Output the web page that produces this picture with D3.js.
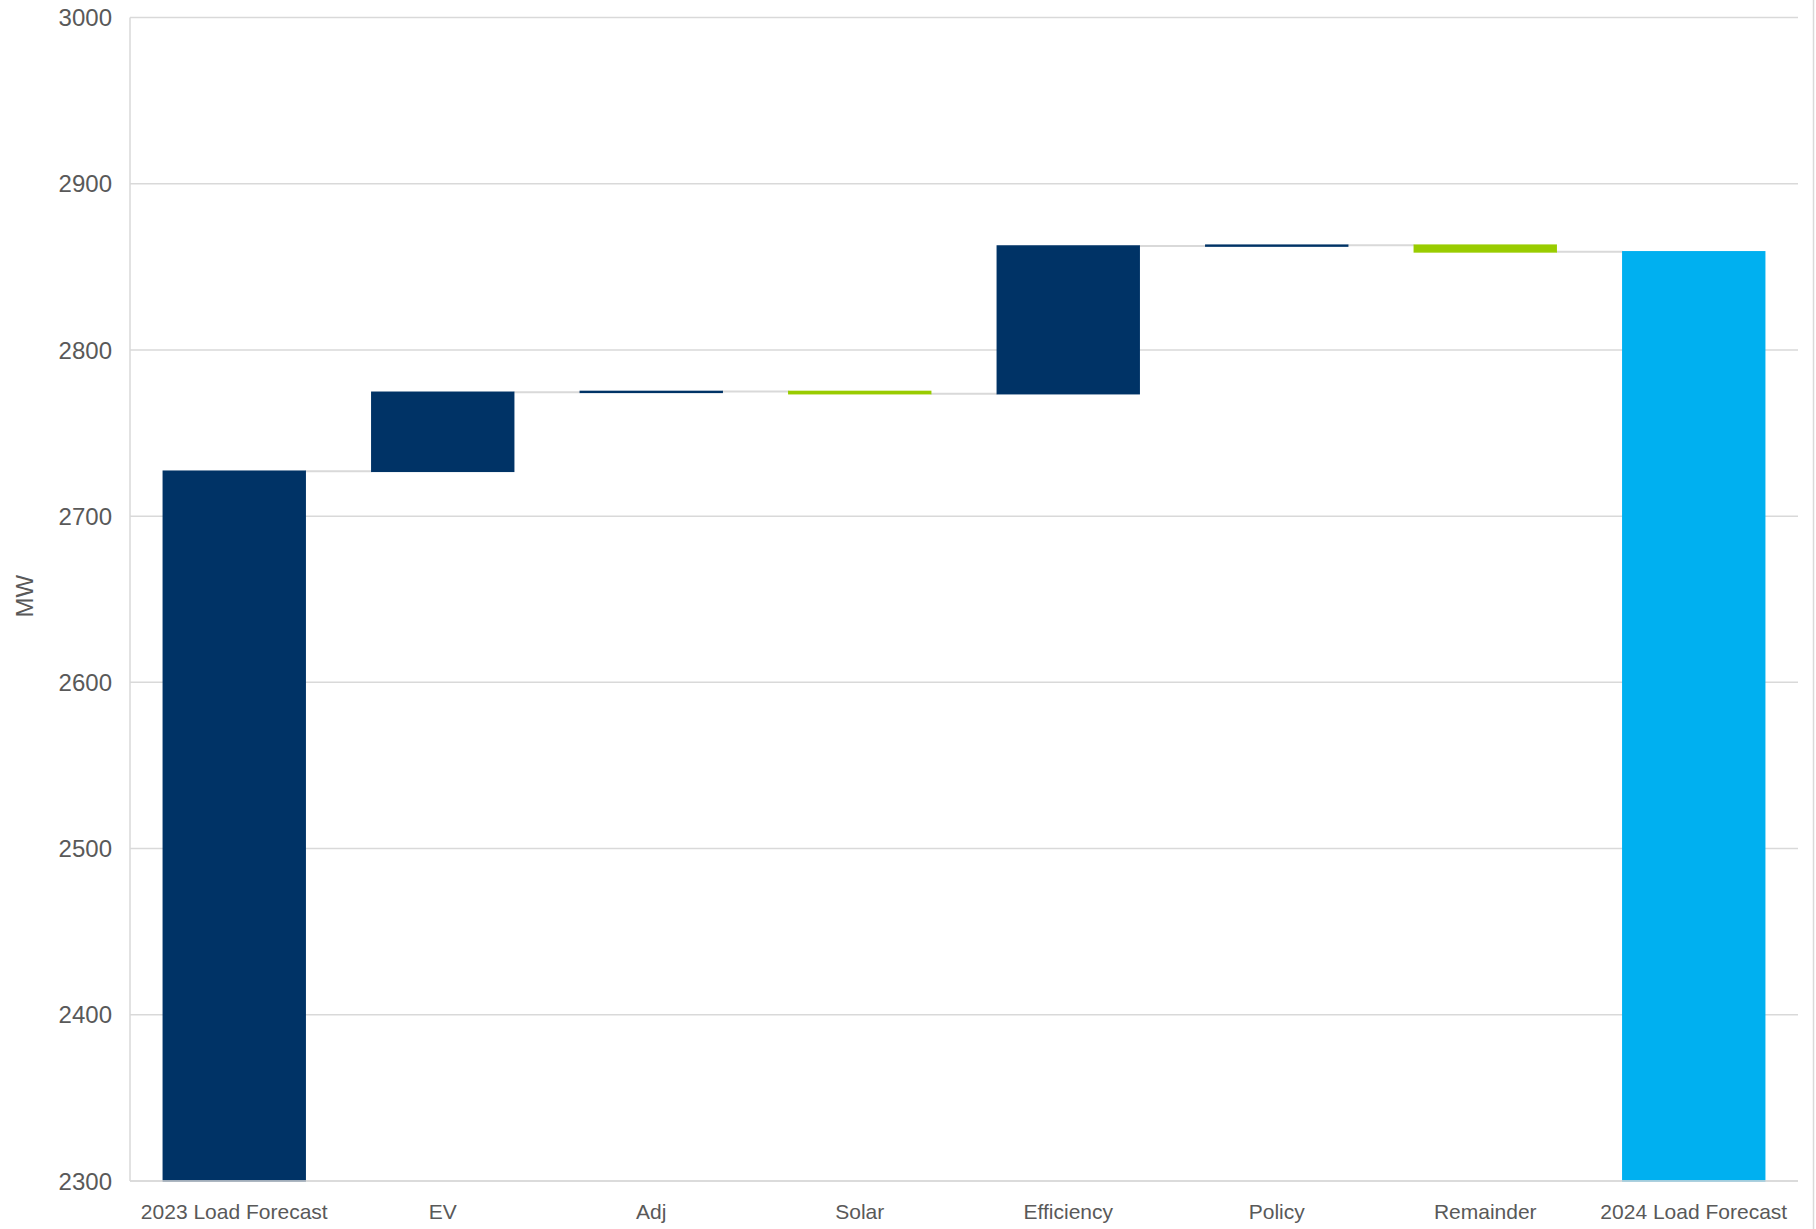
<!DOCTYPE html>
<html>
<head>
<meta charset="utf-8">
<script src="https://cdn.jsdelivr.net/npm/d3@7"></script>
<style>
  html, body { margin: 0; padding: 0; background: #fff; }
  svg { display: block; font-family: "Liberation Sans", Arial, sans-serif; }
</style>
</head>
<body>
<div id="chart"></div>
<script>
// values (MW)
const categories = ["2023 Load Forecast", "EV", "Adj", "Solar", "Efficiency", "Policy", "Remainder", "2024 Load Forecast"];
const startTotal = 2727;
const changes = [47.5, 0.5, -1.3, 88.8, 0.5, -4.0];
const endTotal = 2859;
const yTicks = [2300, 2400, 2500, 2600, 2700, 2800, 2900, 3000];

const W = 1816, H = 1229;
const margin = { top: 17.5, right: 18, bottom: 48, left: 130 };
const width = W - margin.left - margin.right;
const height = H - margin.top - margin.bottom;

const colors = { start: "#003366", up: "#003366", down: "#99cc00", end: "#00b0f0" };

// build waterfall steps
const steps = [];
let running = startTotal;
steps.push({ name: categories[0], lo: yTicks[0], hi: startTotal, end: startTotal, kind: "start" });
changes.forEach((c, i) => {
  const from = running;
  running = running + c;
  steps.push({
    name: categories[i + 1],
    lo: Math.min(from, running),
    hi: Math.max(from, running),
    end: running,
    kind: c >= 0 ? "up" : "down"
  });
});
steps.push({ name: categories[categories.length - 1], lo: yTicks[0], hi: endTotal, end: endTotal, kind: "end" });

const svg = d3.select("#chart").append("svg")
  .attr("width", W)
  .attr("height", H);

const g = svg.append("g")
  .attr("transform", `translate(${margin.left},${margin.top})`);

const x = d3.scaleBand()
  .domain(categories)
  .range([0, width])
  .paddingInner(0.32)
  .paddingOuter(0.16);

const y = d3.scaleLinear()
  .domain([yTicks[0], yTicks[yTicks.length - 1]])
  .range([height, 0]);

// gridlines
g.append("g")
  .selectAll("line")
  .data(yTicks)
  .enter()
  .append("line")
  .attr("x1", 0)
  .attr("x2", width)
  .attr("y1", d => y(d))
  .attr("y2", d => y(d))
  .attr("stroke", "#d9d9d9")
  .attr("stroke-width", 1.5);

// y tick labels
g.append("g")
  .selectAll("text")
  .data(yTicks)
  .enter()
  .append("text")
  .attr("x", -18)
  .attr("y", d => y(d))
  .attr("dy", "0.36em")
  .attr("text-anchor", "end")
  .style("font-size", "24px")
  .style("fill", "#595959")
  .text(d => d);

// connectors between bars
g.append("g")
  .selectAll("line")
  .data(steps.slice(0, -1))
  .enter()
  .append("line")
  .attr("x1", d => x(d.name) + x.bandwidth())
  .attr("x2", (d, i) => x(steps[i + 1].name))
  .attr("y1", d => y(d.end))
  .attr("y2", d => y(d.end))
  .attr("stroke", "#d9d9d9")
  .attr("stroke-width", 2);

// bars
g.append("g")
  .selectAll("rect")
  .data(steps)
  .enter()
  .append("rect")
  .attr("x", d => x(d.name))
  .attr("width", x.bandwidth())
  .attr("y", d => y(d.hi))
  .attr("height", d => Math.max(0.5, y(d.lo) - y(d.hi)))
  .attr("fill", d => colors[d.kind])
  .attr("stroke", d => colors[d.kind])
  .attr("stroke-width", 1.6);

// left axis line and bottom axis line on top
g.append("line")
  .attr("x1", 0).attr("x2", 0)
  .attr("y1", 0).attr("y2", height)
  .attr("stroke", "#d9d9d9")
  .attr("stroke-width", 1.5);

g.append("line")
  .attr("x1", 0).attr("x2", width)
  .attr("y1", height).attr("y2", height)
  .attr("stroke", "#d9d9d9")
  .attr("stroke-width", 1.5);

// right border of the chart area
svg.append("line")
  .attr("x1", W - 2.5).attr("x2", W - 2.5)
  .attr("y1", 0).attr("y2", H)
  .attr("stroke", "#d9d9d9")
  .attr("stroke-width", 1.5);

// x labels
g.append("g")
  .selectAll("text")
  .data(categories)
  .enter()
  .append("text")
  .attr("x", d => x(d) + x.bandwidth() / 2)
  .attr("y", height + 38)
  .attr("text-anchor", "middle")
  .style("font-size", "21px")
  .style("fill", "#595959")
  .text(d => d);

// y axis title
svg.append("text")
  .attr("transform", `translate(33,${margin.top + height / 2 - 3}) rotate(-90)`)
  .attr("text-anchor", "middle")
  .style("font-size", "24px")
  .style("fill", "#595959")
  .text("MW");
</script>
</body>
</html>
